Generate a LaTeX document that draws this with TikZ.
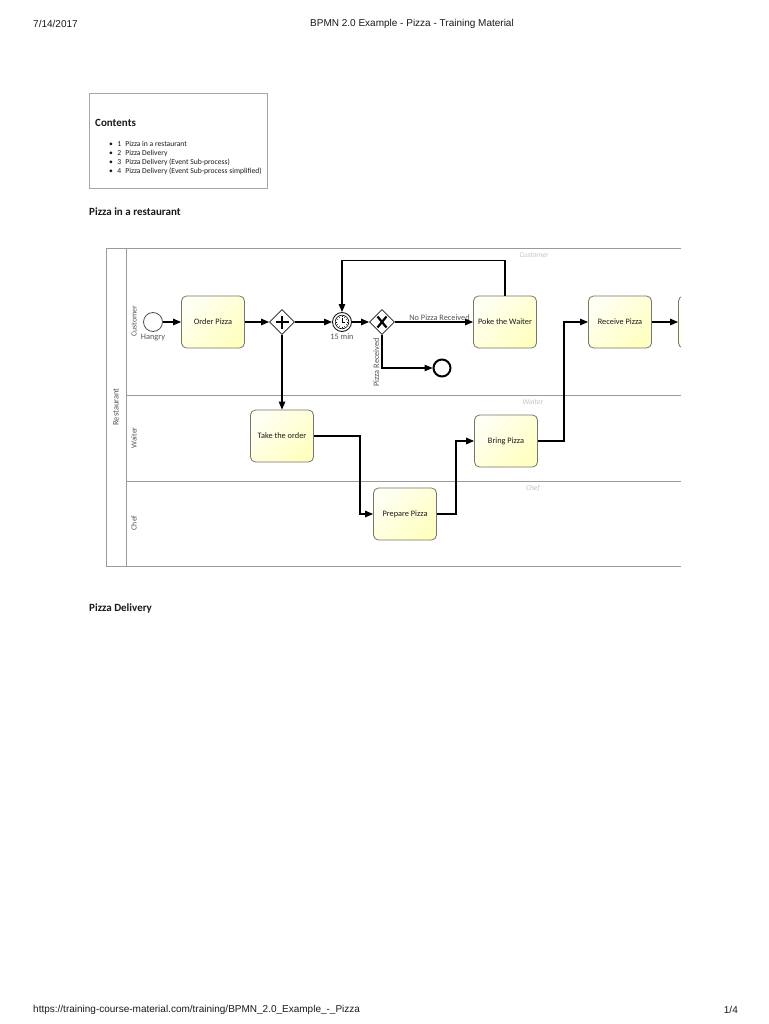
\documentclass[tikz,border=0pt]{standalone}
\usepackage{fontspec}
\setmainfont{Carlito}
\newfontfamily\pageFont{Liberation Sans}
\usetikzlibrary{positioning,shapes.geometric,arrows.meta}
\definecolor{BPInk}{HTML}{1A1A1A}
\definecolor{BPTaskFill}{HTML}{FFFFC2}
\definecolor{BPTaskDraw}{HTML}{76766A}
\definecolor{BPPool}{HTML}{9A9A9A}
\definecolor{BPLaneText}{HTML}{555555}
\definecolor{BPLaneTag}{HTML}{C4C4C4}
\definecolor{BPTocBorder}{HTML}{A6A6A6}
\tikzset{
  pgHead/.style={
    font=\pageFont\fontsize{10pt}{12pt}\selectfont,
    text=BPInk,
    inner sep=0pt
  },
  pgSection/.style={
    font=\fontsize{11pt}{13pt}\selectfont\bfseries,
    text=BPInk,
    inner sep=0pt
  },
  pgToc/.style={
    font=\fontsize{7.6pt}{8pt}\selectfont,
    text=BPInk,
    inner sep=0pt
  },
  bpBase/.style={
    font=\fontsize{8.3pt}{9.5pt}\selectfont,
    text=BPInk,
    inner sep=1pt
  },
  bpTask/.style={
    bpBase,
    rectangle,
    rounded corners=5pt,
    minimum width=63pt,
    minimum height=52pt,
    draw=BPTaskDraw,
    line width=0.8pt,
    top color=BPTaskFill!20!white,
    bottom color=BPTaskFill,
    shading angle=45
  },
  bpStart/.style={
    circle,
    draw=BPInk!75,
    line width=0.8pt,
    fill=white,
    minimum size=19pt,
    inner sep=0pt
  },
  bpEnd/.style={
    circle,
    draw=black,
    line width=2pt,
    fill=white,
    minimum size=17pt,
    inner sep=0pt
  },
  bpTimer/.style={
    circle,
    draw=BPInk,
    line width=0.9pt,
    fill=white,
    minimum size=19pt,
    inner sep=0pt
  },
  bpGate/.style={
    diamond,
    aspect=1,
    draw=BPInk,
    line width=0.8pt,
    fill=white,
    minimum size=25pt,
    inner sep=0pt
  },
  bpLabel/.style={
    bpBase,
    text=BPLaneText
  },
  bpLane/.style={
    font=\fontsize{7.8pt}{9pt}\selectfont,
    text=BPLaneText,
    rotate=90,
    inner sep=0pt
  },
  bpLaneTag/.style={
    font=\fontsize{7.5pt}{9pt}\selectfont\itshape,
    text=BPLaneTag,
    inner sep=0pt
  },
  bpPool/.style={
    draw=BPPool,
    line width=0.8pt
  },
  bpArrow/.style={
    line width=1.2pt,
    draw=black,
    -{Triangle[length=8pt,width=6.5pt]}
  }
}
\begin{document}
\begin{tikzpicture}[x=1pt, y=-1pt]
\useasboundingbox[fill=white] (0,0) rectangle (768,1024);

% page head and foot
\node (date) [pgHead, anchor=west] at (33,24) {7/14/2017};
\node (title) [pgHead] at (412,24) {BPMN 2.0 Example - Pizza - Training Material};
\node (url) [pgHead, anchor=west] at (33,1010) {https://training-course-material.com/training/BPMN\_2.0\_Example\_-\_Pizza};
\node (page) [pgHead, anchor=east] at (738,1010) {1/4};

% contents box
\node (toc) [draw=BPTocBorder, line width=0.8pt, minimum width=178pt, minimum height=95pt, anchor=north west, inner sep=0pt] at (89,93) {};
\node (tocTitle) [pgSection, anchor=west] at (95,123) {Contents};
\foreach \n/\t in {1/{Pizza in a restaurant}, 2/{Pizza Delivery}, 3/{Pizza Delivery (Event Sub-process)}, 4/{Pizza Delivery (Event Sub-process simplified)}}
  \node (toc\n) [pgToc, anchor=west] at (109,135+9*\n) {\textbullet\hspace{4.5pt}\n\hspace{4pt}\t};

\node (secA) [pgSection, anchor=west] at (89,212) {Pizza in a restaurant};
\node (secB) [pgSection, anchor=west] at (89,608) {Pizza Delivery};

% pool and lanes
\begin{scope}
  \clip (100,240) rectangle (681,580);
  \draw[bpPool] (681,248) -- (106,248) -- (106,566) -- (681,566);
  \draw[bpPool] (126,248) -- (126,566);
  \draw[bpPool] (126,395) -- (681,395);
  \draw[bpPool] (126,481) -- (681,481);

  \node (poolName) [bpLane, font=\fontsize{8.5pt}{9pt}\selectfont] at (116,407) {Restaurant};
  \node (laneCust) [bpLane] at (134,321) {Customer};
  \node (laneWait) [bpLane] at (134,438) {Waiter};
  \node (laneChef) [bpLane] at (134,523) {Chef};
  \node (tagCust) [bpLaneTag] at (534,255) {Customer};
  \node (tagWait) [bpLaneTag] at (533,402) {Waiter};
  \node (tagChef) [bpLaneTag] at (533,488) {Chef};

  % customer lane
  \node (start) [bpStart] at (153,322) {};
  \node (hangry) [bpLabel, below=1pt of start] {Hangry};
  \node (order) [bpTask] at (213,322) {Order Pizza};
  \node (fork) [bpGate] at (282,322) {};
  \node (timer) [bpTimer] at (342,322) {};
  \node (wait) [bpLabel, below=1pt of timer] {15 min};
  \node (check) [bpGate] at (382,322) {};
  \node (poke) [bpTask] at (505,322) {Poke the Waiter};
  \node (done) [bpEnd] at (442,368) {};
  \node (receive) [bpTask] at (620,322) {Receive Pizza};
  \node (eat) [bpTask] at (710,322) {};

  % waiter and chef lanes
  \node (take) [bpTask] at (282,436) {Take the order};
  \node (bring) [bpTask] at (506,441) {Bring Pizza};
  \node (prepare) [bpTask] at (405,514) {Prepare Pizza};

  % gateway and timer marks
  \draw[line width=1.6pt] ([yshift=6.5pt]fork.center) -- ([yshift=-6.5pt]fork.center)
    ([xshift=-6.5pt]fork.center) -- ([xshift=6.5pt]fork.center);
  \draw[line width=2.2pt] ([shift={(-4.5pt,5.5pt)}]check.center) -- ([shift={(4.5pt,-5.5pt)}]check.center)
    ([shift={(-4.5pt,-5.5pt)}]check.center) -- ([shift={(4.5pt,5.5pt)}]check.center);
  \draw[line width=0.6pt] (timer.center) circle (6.8pt);
  \foreach \a in {0,30,...,330}
    \draw[line width=0.4pt] ([shift={(\a:4.6pt)}]timer.center) -- ([shift={(\a:6.2pt)}]timer.center);
  \draw[line width=0.6pt] ([yshift=4.5pt]timer.center) -- (timer.center) -- ([xshift=3pt]timer.center);

  % sequence flows
  \draw[bpArrow] (start) -- (order);
  \draw[bpArrow] (order) -- (fork);
  \draw[bpArrow] (fork) -- (timer);
  \draw[bpArrow] (timer) -- (check);
  \draw[bpArrow] (check) -- node[bpLabel, above, pos=0.57] {No Pizza Received} (poke);
  \draw[bpArrow] (poke.north) -- ++(0,-35) -| (timer.north);
  \draw[bpArrow] (check.south) |- (done);
  \node (gotPizza) [bpLabel, rotate=90, anchor=south east] at ([shift={(-1.5pt,-2pt)}]check.south) {Pizza Received};
  \draw[bpArrow] (fork) -- (take);
  \draw[bpArrow] (take.east) -- ++(46,0) |- (prepare.west);
  \draw[bpArrow] (prepare.east) -- ++(19,0) |- (bring.west);
  \draw[bpArrow] (bring.east) -- ++(26,0) |- (receive.west);
  \draw[bpArrow] (receive) -- (eat);
\end{scope}
\end{tikzpicture}
\end{document}
